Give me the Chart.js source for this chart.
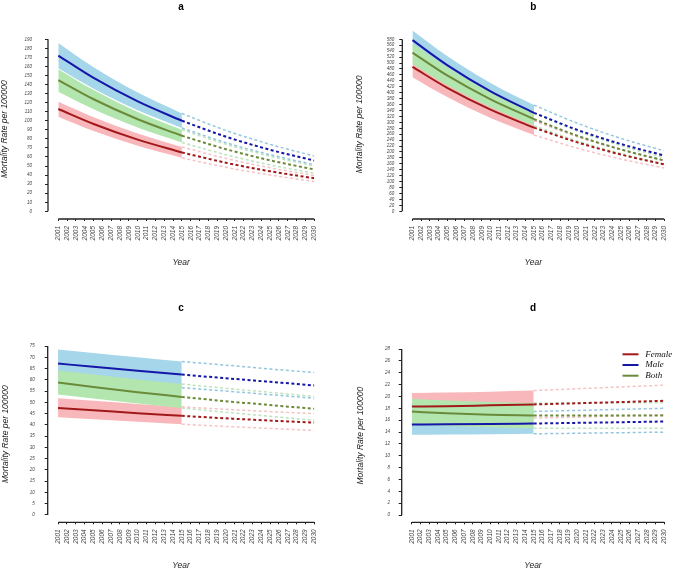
<!DOCTYPE html>
<html>
<head>
<meta charset="utf-8">
<script src="https://cdn.jsdelivr.net/npm/chart.js@4.4.0/dist/chart.umd.min.js"></script>
<style>
  body { margin: 0; background: #fff; }
  #wrap { position: relative; width: 677px; height: 571px; }
  canvas { position: absolute; }
</style>
</head>
<body>
<div id="wrap">
  <canvas id="panelA" width="340" height="285" style="left:0;top:0"></canvas>
  <canvas id="panelB" width="337" height="285" style="left:340px;top:0"></canvas>
  <canvas id="panelC" width="340" height="286" style="left:0;top:285px"></canvas>
  <canvas id="panelD" width="337" height="286" style="left:340px;top:285px"></canvas>
</div>
<script>
const years = [2001, 2002, 2003, 2004, 2005, 2006, 2007, 2008, 2009, 2010,
               2011, 2012, 2013, 2014, 2015, 2016, 2017, 2018, 2019, 2020,
               2021, 2022, 2023, 2024, 2025, 2026, 2027, 2028, 2029, 2030];
const pointYears = [2001, 2005, 2010, 2015, 2020, 2025, 2030]; // 0-3 observed, 3-6 projected
const seriesNames = ['Female', 'Male', 'Both'];

// y tick labels
const aTicks = [0, 10, 20, 30, 40, 50, 60, 70, 80, 90, 100, 110, 120, 130, 140, 150, 160, 170, 180, 190];
const bTicks = [0, 20, 40, 60, 80, 100, 120, 140, 160, 180, 200, 220, 240, 260, 280, 300, 320, 340, 360, 380,
                400, 420, 440, 460, 480, 500, 520, 540, 560, 580];
const cTicks = [0, 5, 10, 15, 20, 25, 30, 35, 40, 45, 50, 55, 60, 65, 70, 75];
const dTicks = [0, 2, 4, 6, 8, 10, 12, 14, 16, 18, 20, 22, 24, 26, 28];

// panel a
const aFemale   = [113, 96.5, 79.2, 65, 53.6, 44.2, 36.5];
const aFemaleLo = [104.5, 88.7, 72.3, 59, 48.6, 40.1, 33];
const aFemaleHi = [121, 104, 86, 71, 58.4, 48, 39.5];
const aMale     = [172, 147.3, 121.4, 100, 82.4, 67.9, 56];
const aMaleLo   = [158, 135.4, 111.6, 92, 75.8, 62.5, 51.5];
const aMaleHi   = [186, 159.2, 131.2, 108, 89.3, 73.9, 61];
const aBoth     = [145, 123.8, 101.7, 83.5, 68.6, 56.3, 46.2];
const aBothLo   = [132, 112.7, 92.6, 76, 62.4, 51.2, 42];
const aBothHi   = [157, 133.9, 109.8, 90, 74, 60.8, 50];

// panel b
const bFemale   = [487, 416.4, 342.7, 282, 232.4, 191.5, 158];
const bFemaleLo = [452, 385, 314.5, 257, 212.8, 176.2, 146];
const bFemaleHi = [522, 447.9, 369.5, 305, 251.6, 207.6, 171];
const bMale     = [577, 493, 404.5, 332, 274.6, 227, 188];
const bMaleLo   = [544, 461, 375.5, 306, 253, 209, 172];
const bMaleHi   = [610, 524, 433, 358, 297, 246, 204];
const bBoth     = [535, 458, 377.4, 311, 254.7, 208.6, 171];
const bBothLo   = [497, 425.4, 350.5, 288.5, 237.2, 195, 160];
const bBothHi   = [567, 486, 400.4, 330, 270.3, 221.4, 181];

// panel c
const cFemale   = [47.5, 46.5, 45.2, 44.0, 42.9, 41.9, 41.0];
const cFemaleLo = [43.4, 42.5, 41.4, 40.3, 39.3, 38.4, 37.5];
const cFemaleHi = [51.8, 50.7, 49.3, 48.0, 46.9, 45.9, 45.0];
const cMale     = [67.2, 65.8, 64.0, 62.3, 60.7, 59.1, 57.5];
const cMaleLo   = [61, 59.7, 58.1, 56.5, 55, 53.4, 51.8];
const cMaleHi   = [73.5, 71.9, 70.0, 68.1, 66.5, 64.8, 63.2];
const cBoth     = [58.8, 56.8, 54.5, 52.4, 50.5, 48.8, 47.1];
const cBothLo   = [53.5, 51.7, 49.5, 47.5, 45.6, 43.8, 42];
const cBothHi   = [64.1, 62.3, 60.1, 58.1, 56.2, 54.4, 52.6];

// panel d
const dFemale   = [18.3, 18.35, 18.5, 18.65, 18.85, 19.05, 19.27];
const dFemaleLo = [16.1, 16.15, 16.25, 16.35, 16.5, 16.7, 16.9];
const dFemaleHi = [20.57, 20.65, 20.8, 21.0, 21.3, 21.6, 21.9];
const dMale     = [15.26, 15.3, 15.36, 15.43, 15.54, 15.65, 15.77];
const dMaleLo   = [13.52, 13.56, 13.63, 13.7, 13.79, 13.88, 13.98];
const dMaleHi   = [17.0, 17.1, 17.3, 17.46, 17.64, 17.82, 18.0];
const dBoth     = [17.46, 17.15, 16.9, 16.79, 16.78, 16.78, 16.8];
const dBothLo   = [15.3, 15.0, 14.8, 14.65, 14.65, 14.65, 14.65];
const dBothHi   = [19.6, 19.3, 19.05, 18.9, 18.9, 18.92, 18.95];

Chart.defaults.font.family = '"Liberation Sans", Arial, sans-serif';
Chart.defaults.color = '#222';

const colors = {
    Female: { line: '#a31818', band: '#f8b8bb', light: '#f5c2c5' },
    Male:   { line: '#1616a8', band: '#a6d6ea', light: '#93c6de' },
    Both:   { line: '#6b8a3a', band: '#b2e6ae', light: '#bde3bb' }
};
// green band sits on top of the others
const bandOrder = { Female: 12, Male: 11, Both: 10 };

function toPoints(values, from, to) {
    const pts = [];
    for (let i = from; i <= to; i++) {
        pts.push({ x: pointYears[i], y: values[i] });
    }
    return pts;
}

const lineBase = { pointRadius: 0, cubicInterpolationMode: 'monotone', fill: false };

function buildDatasets(series) {
    const sets = [];
    series.forEach(s => {
        const c = colors[s.name];
        sets.push({ ...lineBase, data: toPoints(s.hi, 0, 3), fill: '+1', backgroundColor: c.band,
                    borderColor: 'transparent', borderWidth: 0, order: bandOrder[s.name] });
        sets.push({ ...lineBase, data: toPoints(s.lo, 0, 3),
                    borderColor: 'transparent', borderWidth: 0, order: bandOrder[s.name] });
    });
    series.forEach(s => {
        const c = colors[s.name];
        sets.push({ ...lineBase, label: s.name, data: toPoints(s.mean, 0, 3), borderColor: c.line, borderWidth: 2, order: 1 });
        sets.push({ ...lineBase, data: toPoints(s.hi, 3, 6), borderColor: c.light, borderWidth: 1.5, borderDash: [3, 2.5], order: 3 });
        sets.push({ ...lineBase, data: toPoints(s.lo, 3, 6), borderColor: c.light, borderWidth: 1.5, borderDash: [3, 2.5], order: 3 });
        sets.push({ ...lineBase, data: toPoints(s.mean, 3, 6), borderColor: c.line, borderWidth: 2, borderDash: [3, 2.5], order: 2 });
    });
    return sets;
}

// axis lines: y from 0 to the top tick, x from first to last year
const axisLines = {
    id: 'axisLines',
    afterDraw(chart) {
        const { ctx, chartArea, scales: { x, y } } = chart;
        const yTop = y.getPixelForValue(y.ticks[y.ticks.length - 1].value);
        const yZero = y.getPixelForValue(0);
        ctx.save();
        ctx.strokeStyle = '#222';
        ctx.lineWidth = 1.3;
        ctx.beginPath();
        ctx.moveTo(chartArea.left, yTop);
        ctx.lineTo(chartArea.left, yZero);
        ctx.moveTo(x.getPixelForValue(years[0]), chartArea.bottom);
        ctx.lineTo(x.getPixelForValue(years[years.length - 1]), chartArea.bottom);
        ctx.stroke();
        ctx.restore();
    }
};

const sexLegend = {
    id: 'sexLegend',
    afterDraw(chart) {
        const { ctx, chartArea } = chart;
        ctx.save();
        seriesNames.forEach((name, i) => {
            const y = chartArea.top + 5.3 + i * 10.7;
            const x0 = chartArea.right - 41.7;
            ctx.strokeStyle = colors[name].line;
            ctx.lineWidth = 2;
            ctx.beginPath();
            ctx.moveTo(x0, y);
            ctx.lineTo(x0 + 16, y);
            ctx.stroke();
            ctx.fillStyle = '#111';
            ctx.font = 'italic 9px "Liberation Serif", "Times New Roman", serif';
            ctx.textBaseline = 'middle';
            ctx.fillText(name, x0 + 22.7, y);
        });
        ctx.restore();
    }
};

function makePanel(id, letter, series, yMin, yMax, yTicks, L, extra) {
    new Chart(document.getElementById(id), {
        type: 'line',
        data: { datasets: buildDatasets(series) },
        plugins: [axisLines].concat(extra || []),
        options: {
            responsive: false,
            animation: false,
            events: [],
            layout: { padding: { left: 0, right: L.padRight, top: 0, bottom: 0 } },
            plugins: {
                legend: { display: false },
                tooltip: { enabled: false },
                title: {
                    display: true,
                    text: letter,
                    fullSize: false,
                    color: '#000',
                    font: { size: 10, weight: 'bold', lineHeight: 1.1 },
                    padding: { top: L.titleTop, bottom: L.titleBottom }
                }
            },
            scales: {
                x: {
                    type: 'linear',
                    min: 1999.83,
                    max: 2030,
                    afterBuildTicks: s => { s.ticks = years.map(v => ({ value: v })); },
                    afterFit: s => { s.height = L.xHeight; },
                    border: { display: false },
                    grid: { drawOnChartArea: false, tickLength: 2, color: '#222' },
                    ticks: {
                        autoSkip: false,
                        minRotation: 90,
                        maxRotation: 90,
                        padding: 5,
                        color: '#444',
                        font: { size: 6.5, style: 'italic' },
                        callback: v => String(v)
                    },
                    title: {
                        display: true,
                        text: 'Year',
                        color: '#222',
                        font: { size: 8.5, style: 'italic' },
                        padding: { top: 0, bottom: L.xTitleBottom }
                    }
                },
                y: {
                    min: yMin,
                    max: yMax,
                    afterBuildTicks: s => { s.ticks = yTicks.map(v => ({ value: v })); },
                    afterFit: s => { s.width = L.yWidth; },
                    border: { display: false },
                    grid: { drawOnChartArea: false, tickLength: 3, color: '#222' },
                    ticks: {
                        autoSkip: false,
                        padding: L.yTickPad,
                        color: '#444',
                        font: { size: 4.5, style: 'italic' }
                    },
                    title: {
                        display: true,
                        text: 'Mortality Rate per 100000',
                        color: '#222',
                        font: { size: 8.5, style: 'italic' },
                        padding: { top: L.yTitleTop, bottom: 0 }
                    }
                }
            }
        }
    });
}

makePanel('panelA', 'a', [
    { name: 'Female', mean: aFemale, lo: aFemaleLo, hi: aFemaleHi },
    { name: 'Male', mean: aMale, lo: aMaleLo, hi: aMaleHi },
    { name: 'Both', mean: aBoth, lo: aBothLo, hi: aBothHi }
], -8.5, 190, aTicks,
{ yWidth: 48, xHeight: 66, padRight: 25.7, titleTop: 2, titleBottom: 26.3, yTitleTop: 0, yTickPad: 13, xTitleBottom: 17 });

makePanel('panelB', 'b', [
    { name: 'Female', mean: bFemale, lo: bFemaleLo, hi: bFemaleHi },
    { name: 'Male', mean: bMale, lo: bMaleLo, hi: bMaleHi },
    { name: 'Both', mean: bBoth, lo: bBothLo, hi: bBothHi }
], -26, 612, bTicks,
{ yWidth: 62.3, xHeight: 66, padRight: 8, titleTop: 2, titleBottom: 16.8, yTitleTop: 14.9, yTickPad: 5, xTitleBottom: 17 });

makePanel('panelC', 'c', [
    { name: 'Female', mean: cFemale, lo: cFemaleLo, hi: cFemaleHi },
    { name: 'Male', mean: cMale, lo: cMaleLo, hi: cMaleHi },
    { name: 'Both', mean: cBoth, lo: cBothLo, hi: cBothHi }
], -3.24, 75, cTicks,
{ yWidth: 47.7, xHeight: 48.7, padRight: 25.7, titleTop: 17.8, titleBottom: 32.2, yTitleTop: 0.4, yTickPad: 10, xTitleBottom: 0 });

makePanel('panelD', 'd', [
    { name: 'Female', mean: dFemale, lo: dFemaleLo, hi: dFemaleHi },
    { name: 'Male', mean: dMale, lo: dMaleLo, hi: dMaleHi },
    { name: 'Both', mean: dBoth, lo: dBothLo, hi: dBothHi }
], -1.23, 28, dTicks,
{ yWidth: 61.7, xHeight: 48.7, padRight: 8, titleTop: 17.8, titleBottom: 35.2, yTitleTop: 15.4, yTickPad: 8.7, xTitleBottom: 0 }, [sexLegend]);
</script>
</body>
</html>
